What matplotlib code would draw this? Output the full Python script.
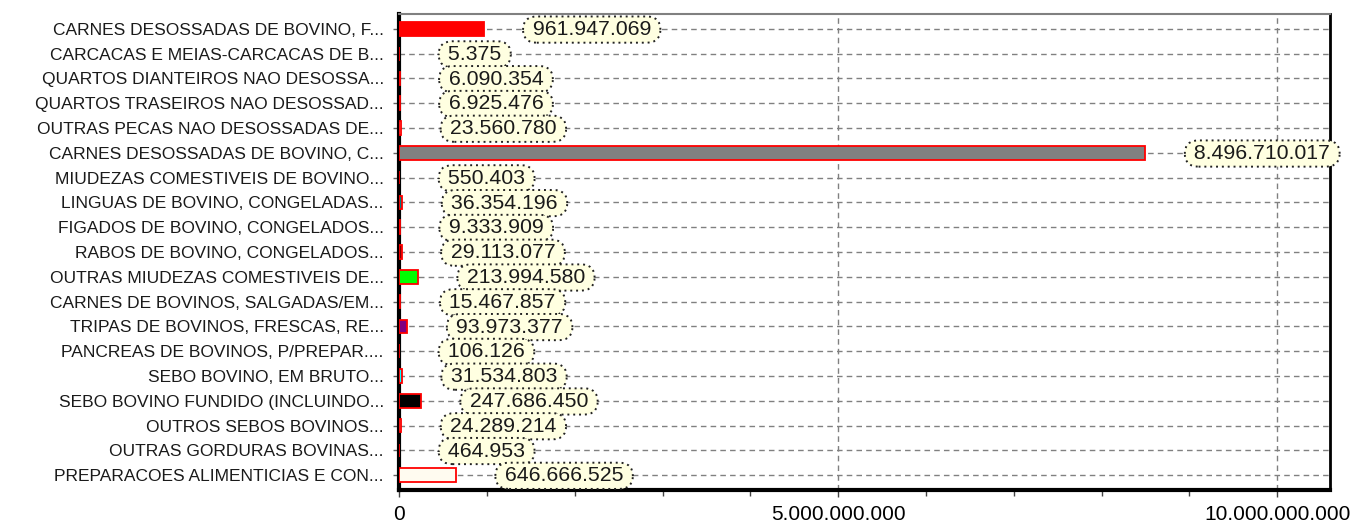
import matplotlib.pyplot as plt
from matplotlib.ticker import FuncFormatter, MultipleLocator

# Dados
produtos = [
    'CARNES DESOSSADAS DE BOVINO, F...',
    'CARCACAS E MEIAS-CARCACAS DE B...',
    'QUARTOS DIANTEIROS NAO DESOSSA...',
    'QUARTOS TRASEIROS NAO DESOSSAD...',
    'OUTRAS PECAS NAO DESOSSADAS DE...',
    'CARNES DESOSSADAS DE BOVINO, C...',
    'MIUDEZAS COMESTIVEIS DE BOVINO...',
    'LINGUAS DE BOVINO, CONGELADAS...',
    'FIGADOS DE BOVINO, CONGELADOS...',
    'RABOS DE BOVINO, CONGELADOS...',
    'OUTRAS MIUDEZAS COMESTIVEIS DE...',
    'CARNES DE BOVINOS, SALGADAS/EM...',
    'TRIPAS DE BOVINOS, FRESCAS, RE...',
    'PANCREAS DE BOVINOS, P/PREPAR....',
    'SEBO BOVINO, EM BRUTO...',
    'SEBO BOVINO FUNDIDO (INCLUINDO...',
    'OUTROS SEBOS BOVINOS...',
    'OUTRAS GORDURAS BOVINAS...',
    'PREPARACOES ALIMENTICIAS E CON...',
]
valores = [
    961947069, 5375, 6090354, 6925476, 23560780, 8496710017, 550403,
    36354196, 9333909, 29113077, 213994580, 15467857, 93973377, 106126,
    31534803, 247686450, 24289214, 464953, 646666525,
]
cores = [
    '#FF0000', '#008000', '#FFFF00', '#0000FF', '#FFFFFF', '#808080',
    '#FF00FF', '#008080', '#000080', '#800000', '#00FF00', '#808000',
    '#800080', '#C0C0C0', '#00FFFF', '#000000', '#C0DCC0', '#A6CAF0',
    '#FFFBF0',
]


def fmt_br(v, pos=None):
    return f'{int(v):,}'.replace(',', '.')


plt.rcParams['font.family'] = ['Liberation Sans', 'DejaVu Sans']

fig = plt.figure(figsize=(13.5, 5.27), dpi=100)
ax = fig.add_axes([0.2956, 0.0702, 0.9852 - 0.2956, 0.9734 - 0.0702])

y = list(range(len(produtos)))
ax.barh(y, valores, height=0.55, color=cores, edgecolor='#FF0000',
        linewidth=1.3, zorder=3)

for i, v in enumerate(valores):
    ax.annotate(' ' + fmt_br(v) + ' ', xy=(v, i), xytext=(31, -0.5),
                textcoords='offset points', ha='left', va='center',
                fontsize=15.3, color='#1a1a1a', zorder=5,
                bbox=dict(boxstyle='round,pad=0.17,rounding_size=0.65',
                          fc='#FFFFE1', ec='#222222', ls=(0, (1, 2)), lw=1.4))

ax.set_yticks(y)
ax.set_yticklabels(produtos, fontsize=12.5, color='#1a1a1a')
ax.set_ylim(18.6, -0.6)
ax.set_xlim(0, 1.06e10)

ax.xaxis.set_major_locator(MultipleLocator(5e9))
ax.xaxis.set_minor_locator(MultipleLocator(1e9))
ax.xaxis.set_major_formatter(FuncFormatter(fmt_br))
ax.tick_params(axis='x', which='major', labelsize=15, length=5, pad=6,
               width=1, color='#444444')
ax.tick_params(axis='x', which='minor', length=4, width=1, color='#444444')
ax.tick_params(axis='y', length=4, pad=7, width=1, color='#666666')

ax.grid(True, axis='both', which='major', color='#808080',
        linestyle=(0, (4, 3)), linewidth=1, zorder=1)

for lado in ['left', 'bottom']:
    ax.spines[lado].set_linewidth(3)
    ax.spines[lado].set_color('black')
ax.spines['right'].set_linewidth(2)
ax.spines['right'].set_color('black')
ax.spines['top'].set_linewidth(1.5)
ax.spines['top'].set_color('#808080')

fig.savefig('out.png', dpi=100)
